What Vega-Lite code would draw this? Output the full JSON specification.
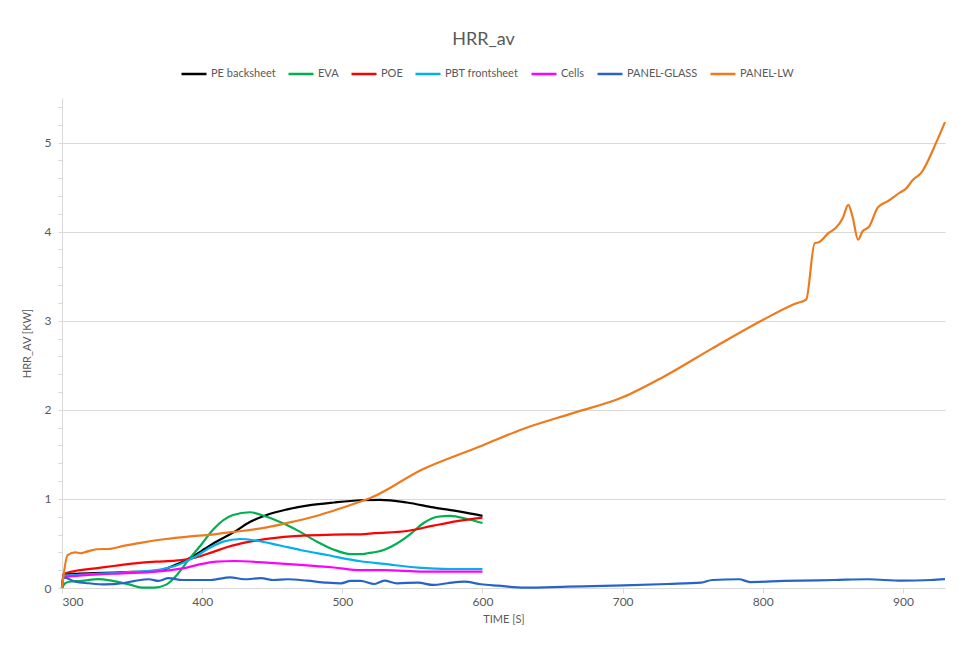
{
  "$schema": "https://vega.github.io/schema/vega-lite/v6.json",
  "width": 883,
  "height": 490,
  "autosize": "none",
  "padding": {"left": 62, "top": 98, "right": 23, "bottom": 58},
  "background": "white",
  "config": {"font": "Lato", "view": {"stroke": null}},
  "title": {
    "text": "HRR_av",
    "fontSize": 18,
    "fontWeight": "normal",
    "color": "#595959",
    "anchor": "middle",
    "dx": -20,
    "offset": 11
  },
  "data": {
    "values": [
      {"s": "PE backsheet", "t": 300, "v": 0},
      {"s": "PE backsheet", "t": 301.5, "v": 0.15},
      {"s": "PE backsheet", "t": 310, "v": 0.16},
      {"s": "PE backsheet", "t": 330, "v": 0.17},
      {"s": "PE backsheet", "t": 350, "v": 0.18},
      {"s": "PE backsheet", "t": 366, "v": 0.19},
      {"s": "PE backsheet", "t": 375, "v": 0.22},
      {"s": "PE backsheet", "t": 381, "v": 0.26},
      {"s": "PE backsheet", "t": 388, "v": 0.31},
      {"s": "PE backsheet", "t": 395, "v": 0.37},
      {"s": "PE backsheet", "t": 402, "v": 0.44},
      {"s": "PE backsheet", "t": 409, "v": 0.51},
      {"s": "PE backsheet", "t": 416, "v": 0.57},
      {"s": "PE backsheet", "t": 423, "v": 0.63},
      {"s": "PE backsheet", "t": 434, "v": 0.74},
      {"s": "PE backsheet", "t": 446, "v": 0.82},
      {"s": "PE backsheet", "t": 460, "v": 0.88},
      {"s": "PE backsheet", "t": 477, "v": 0.93},
      {"s": "PE backsheet", "t": 494, "v": 0.96},
      {"s": "PE backsheet", "t": 513, "v": 0.985},
      {"s": "PE backsheet", "t": 527, "v": 0.99},
      {"s": "PE backsheet", "t": 546, "v": 0.96},
      {"s": "PE backsheet", "t": 565, "v": 0.905},
      {"s": "PE backsheet", "t": 584, "v": 0.857},
      {"s": "PE backsheet", "t": 600, "v": 0.81},

      {"s": "EVA", "t": 300, "v": 0},
      {"s": "EVA", "t": 302, "v": 0.05},
      {"s": "EVA", "t": 305, "v": 0.07},
      {"s": "EVA", "t": 314, "v": 0.08},
      {"s": "EVA", "t": 326, "v": 0.1},
      {"s": "EVA", "t": 336, "v": 0.08},
      {"s": "EVA", "t": 348, "v": 0.04},
      {"s": "EVA", "t": 357, "v": 0.005},
      {"s": "EVA", "t": 366, "v": 0.005},
      {"s": "EVA", "t": 374, "v": 0.035},
      {"s": "EVA", "t": 381, "v": 0.13},
      {"s": "EVA", "t": 390, "v": 0.31},
      {"s": "EVA", "t": 400, "v": 0.5},
      {"s": "EVA", "t": 408, "v": 0.66},
      {"s": "EVA", "t": 422, "v": 0.82},
      {"s": "EVA", "t": 434, "v": 0.85},
      {"s": "EVA", "t": 446, "v": 0.8},
      {"s": "EVA", "t": 460, "v": 0.71},
      {"s": "EVA", "t": 470, "v": 0.63},
      {"s": "EVA", "t": 482, "v": 0.52},
      {"s": "EVA", "t": 494, "v": 0.43},
      {"s": "EVA", "t": 506, "v": 0.38},
      {"s": "EVA", "t": 513, "v": 0.38},
      {"s": "EVA", "t": 518, "v": 0.39},
      {"s": "EVA", "t": 530, "v": 0.43},
      {"s": "EVA", "t": 539, "v": 0.5},
      {"s": "EVA", "t": 549, "v": 0.61},
      {"s": "EVA", "t": 558, "v": 0.73},
      {"s": "EVA", "t": 568, "v": 0.8},
      {"s": "EVA", "t": 577, "v": 0.81},
      {"s": "EVA", "t": 589, "v": 0.775},
      {"s": "EVA", "t": 600, "v": 0.73},

      {"s": "POE", "t": 300, "v": 0},
      {"s": "POE", "t": 301, "v": 0.155},
      {"s": "POE", "t": 309, "v": 0.19},
      {"s": "POE", "t": 324, "v": 0.22},
      {"s": "POE", "t": 338, "v": 0.25},
      {"s": "POE", "t": 352, "v": 0.277},
      {"s": "POE", "t": 367, "v": 0.296},
      {"s": "POE", "t": 381, "v": 0.307},
      {"s": "POE", "t": 395, "v": 0.34},
      {"s": "POE", "t": 407, "v": 0.4},
      {"s": "POE", "t": 418, "v": 0.46},
      {"s": "POE", "t": 434, "v": 0.52},
      {"s": "POE", "t": 454, "v": 0.565},
      {"s": "POE", "t": 475, "v": 0.59},
      {"s": "POE", "t": 494, "v": 0.6},
      {"s": "POE", "t": 513, "v": 0.603},
      {"s": "POE", "t": 523, "v": 0.615},
      {"s": "POE", "t": 546, "v": 0.64},
      {"s": "POE", "t": 565, "v": 0.7},
      {"s": "POE", "t": 582, "v": 0.75},
      {"s": "POE", "t": 600, "v": 0.79},

      {"s": "PBT frontsheet", "t": 300, "v": 0},
      {"s": "PBT frontsheet", "t": 301, "v": 0.135},
      {"s": "PBT frontsheet", "t": 310, "v": 0.146},
      {"s": "PBT frontsheet", "t": 331, "v": 0.165},
      {"s": "PBT frontsheet", "t": 355, "v": 0.183},
      {"s": "PBT frontsheet", "t": 371, "v": 0.21},
      {"s": "PBT frontsheet", "t": 383, "v": 0.26},
      {"s": "PBT frontsheet", "t": 395, "v": 0.35},
      {"s": "PBT frontsheet", "t": 406, "v": 0.457},
      {"s": "PBT frontsheet", "t": 415, "v": 0.52},
      {"s": "PBT frontsheet", "t": 427, "v": 0.55},
      {"s": "PBT frontsheet", "t": 439, "v": 0.53},
      {"s": "PBT frontsheet", "t": 454, "v": 0.483},
      {"s": "PBT frontsheet", "t": 470, "v": 0.427},
      {"s": "PBT frontsheet", "t": 489, "v": 0.37},
      {"s": "PBT frontsheet", "t": 513, "v": 0.3},
      {"s": "PBT frontsheet", "t": 530, "v": 0.27},
      {"s": "PBT frontsheet", "t": 554, "v": 0.228},
      {"s": "PBT frontsheet", "t": 577, "v": 0.213},
      {"s": "PBT frontsheet", "t": 600, "v": 0.213},

      {"s": "Cells", "t": 300, "v": 0},
      {"s": "Cells", "t": 301, "v": 0.12},
      {"s": "Cells", "t": 319, "v": 0.146},
      {"s": "Cells", "t": 343, "v": 0.165},
      {"s": "Cells", "t": 367, "v": 0.183},
      {"s": "Cells", "t": 386, "v": 0.22},
      {"s": "Cells", "t": 400, "v": 0.27},
      {"s": "Cells", "t": 410, "v": 0.296},
      {"s": "Cells", "t": 423, "v": 0.303},
      {"s": "Cells", "t": 446, "v": 0.285},
      {"s": "Cells", "t": 470, "v": 0.26},
      {"s": "Cells", "t": 494, "v": 0.23},
      {"s": "Cells", "t": 513, "v": 0.2},
      {"s": "Cells", "t": 530, "v": 0.2},
      {"s": "Cells", "t": 558, "v": 0.183},
      {"s": "Cells", "t": 600, "v": 0.183},

      {"s": "PANEL-GLASS", "t": 300, "v": 0},
      {"s": "PANEL-GLASS", "t": 301, "v": 0.12},
      {"s": "PANEL-GLASS", "t": 309.5, "v": 0.07},
      {"s": "PANEL-GLASS", "t": 319, "v": 0.053},
      {"s": "PANEL-GLASS", "t": 331, "v": 0.04},
      {"s": "PANEL-GLASS", "t": 343, "v": 0.053},
      {"s": "PANEL-GLASS", "t": 352, "v": 0.08},
      {"s": "PANEL-GLASS", "t": 362, "v": 0.098},
      {"s": "PANEL-GLASS", "t": 369, "v": 0.08},
      {"s": "PANEL-GLASS", "t": 376, "v": 0.11},
      {"s": "PANEL-GLASS", "t": 386, "v": 0.09},
      {"s": "PANEL-GLASS", "t": 398, "v": 0.09},
      {"s": "PANEL-GLASS", "t": 406, "v": 0.09},
      {"s": "PANEL-GLASS", "t": 420, "v": 0.12},
      {"s": "PANEL-GLASS", "t": 430, "v": 0.098},
      {"s": "PANEL-GLASS", "t": 442, "v": 0.11},
      {"s": "PANEL-GLASS", "t": 451, "v": 0.09},
      {"s": "PANEL-GLASS", "t": 461, "v": 0.098},
      {"s": "PANEL-GLASS", "t": 475, "v": 0.082},
      {"s": "PANEL-GLASS", "t": 489, "v": 0.06},
      {"s": "PANEL-GLASS", "t": 499, "v": 0.053},
      {"s": "PANEL-GLASS", "t": 506, "v": 0.079},
      {"s": "PANEL-GLASS", "t": 513, "v": 0.079},
      {"s": "PANEL-GLASS", "t": 523, "v": 0.045},
      {"s": "PANEL-GLASS", "t": 530, "v": 0.082},
      {"s": "PANEL-GLASS", "t": 539, "v": 0.053},
      {"s": "PANEL-GLASS", "t": 554, "v": 0.06},
      {"s": "PANEL-GLASS", "t": 565, "v": 0.034},
      {"s": "PANEL-GLASS", "t": 575, "v": 0.053},
      {"s": "PANEL-GLASS", "t": 587, "v": 0.071},
      {"s": "PANEL-GLASS", "t": 599, "v": 0.042},
      {"s": "PANEL-GLASS", "t": 611, "v": 0.026},
      {"s": "PANEL-GLASS", "t": 630, "v": 0.004},
      {"s": "PANEL-GLASS", "t": 661, "v": 0.015},
      {"s": "PANEL-GLASS", "t": 701, "v": 0.03},
      {"s": "PANEL-GLASS", "t": 732, "v": 0.045},
      {"s": "PANEL-GLASS", "t": 756, "v": 0.06},
      {"s": "PANEL-GLASS", "t": 764, "v": 0.09},
      {"s": "PANEL-GLASS", "t": 783, "v": 0.098},
      {"s": "PANEL-GLASS", "t": 791, "v": 0.067},
      {"s": "PANEL-GLASS", "t": 815, "v": 0.079},
      {"s": "PANEL-GLASS", "t": 851, "v": 0.09},
      {"s": "PANEL-GLASS", "t": 875, "v": 0.098},
      {"s": "PANEL-GLASS", "t": 899, "v": 0.082},
      {"s": "PANEL-GLASS", "t": 920, "v": 0.09},
      {"s": "PANEL-GLASS", "t": 930, "v": 0.1},

      {"s": "PANEL-LW", "t": 300, "v": 0},
      {"s": "PANEL-LW", "t": 304, "v": 0.37},
      {"s": "PANEL-LW", "t": 309.5, "v": 0.4},
      {"s": "PANEL-LW", "t": 313, "v": 0.39},
      {"s": "PANEL-LW", "t": 317, "v": 0.405},
      {"s": "PANEL-LW", "t": 325, "v": 0.435},
      {"s": "PANEL-LW", "t": 334.5, "v": 0.44},
      {"s": "PANEL-LW", "t": 343, "v": 0.47},
      {"s": "PANEL-LW", "t": 357, "v": 0.51},
      {"s": "PANEL-LW", "t": 374, "v": 0.55},
      {"s": "PANEL-LW", "t": 390, "v": 0.577},
      {"s": "PANEL-LW", "t": 407, "v": 0.6},
      {"s": "PANEL-LW", "t": 423, "v": 0.63},
      {"s": "PANEL-LW", "t": 446, "v": 0.68},
      {"s": "PANEL-LW", "t": 465, "v": 0.745},
      {"s": "PANEL-LW", "t": 484, "v": 0.82},
      {"s": "PANEL-LW", "t": 499, "v": 0.895},
      {"s": "PANEL-LW", "t": 513, "v": 0.97},
      {"s": "PANEL-LW", "t": 520, "v": 1.01},
      {"s": "PANEL-LW", "t": 557, "v": 1.33},
      {"s": "PANEL-LW", "t": 600, "v": 1.6},
      {"s": "PANEL-LW", "t": 628, "v": 1.78},
      {"s": "PANEL-LW", "t": 664, "v": 1.96},
      {"s": "PANEL-LW", "t": 700, "v": 2.14},
      {"s": "PANEL-LW", "t": 728, "v": 2.36},
      {"s": "PANEL-LW", "t": 764, "v": 2.69},
      {"s": "PANEL-LW", "t": 799, "v": 3.0},
      {"s": "PANEL-LW", "t": 823, "v": 3.19},
      {"s": "PANEL-LW", "t": 831, "v": 3.24},
      {"s": "PANEL-LW", "t": 837, "v": 3.87},
      {"s": "PANEL-LW", "t": 840, "v": 3.88},
      {"s": "PANEL-LW", "t": 847, "v": 3.985},
      {"s": "PANEL-LW", "t": 852, "v": 4.04},
      {"s": "PANEL-LW", "t": 857, "v": 4.15},
      {"s": "PANEL-LW", "t": 861, "v": 4.3},
      {"s": "PANEL-LW", "t": 864, "v": 4.17},
      {"s": "PANEL-LW", "t": 868, "v": 3.91},
      {"s": "PANEL-LW", "t": 871, "v": 4.0},
      {"s": "PANEL-LW", "t": 876, "v": 4.06},
      {"s": "PANEL-LW", "t": 882, "v": 4.27},
      {"s": "PANEL-LW", "t": 889, "v": 4.34},
      {"s": "PANEL-LW", "t": 898, "v": 4.44},
      {"s": "PANEL-LW", "t": 902, "v": 4.48},
      {"s": "PANEL-LW", "t": 907, "v": 4.58},
      {"s": "PANEL-LW", "t": 913, "v": 4.66},
      {"s": "PANEL-LW", "t": 924, "v": 5.01},
      {"s": "PANEL-LW", "t": 930, "v": 5.23}
    ]
  },
  "mark": {"type": "line", "strokeWidth": 2.2, "interpolate": "monotone"},
  "encoding": {
    "x": {
      "field": "t",
      "type": "quantitative",
      "scale": {"domain": [300, 930], "nice": false, "zero": false},
      "axis": {
        "title": "TIME [S]",
        "values": [300, 400, 500, 600, 700, 800, 900],
        "grid": false,
        "domainColor": "#d9d9d9",
        "tickColor": "#d9d9d9",
        "tickSize": 5,
        "labelColor": "#595959",
        "labelFontSize": 12,
        "labelPadding": 3,
        "titleColor": "#595959",
        "titleFontSize": 11,
        "titleFontWeight": "normal",
        "titlePadding": 6
      }
    },
    "y": {
      "field": "v",
      "type": "quantitative",
      "scale": {"domain": [0, 5.5], "nice": false},
      "axis": {
        "title": "HRR_AV [KW]",
        "values": [0, 0.2, 0.4, 0.6, 0.8, 1, 1.2, 1.4, 1.6, 1.8, 2, 2.2, 2.4, 2.6, 2.8, 3, 3.2, 3.4, 3.6, 3.8, 4, 4.2, 4.4, 4.6, 4.8, 5, 5.2, 5.4],
        "labelExpr": "datum.value % 1 === 0 ? format(datum.value, 'd') : ''",
        "grid": true,
        "gridColor": "#d9d9d9",
        "gridOpacity": {"condition": {"test": "datum.value % 1 === 0 && datum.value > 0", "value": 1}, "value": 0},
        "domainColor": "#d9d9d9",
        "tickColor": "#d9d9d9",
        "tickSize": 4,
        "labelColor": "#595959",
        "labelFontSize": 12,
        "labelPadding": 7,
        "titleColor": "#595959",
        "titleFontSize": 11,
        "titleFontWeight": "normal",
        "titlePadding": 12
      }
    },
    "color": {
      "field": "s",
      "type": "nominal",
      "scale": {
        "domain": ["PE backsheet", "EVA", "POE", "PBT frontsheet", "Cells", "PANEL-GLASS", "PANEL-LW"],
        "range": ["#000000", "#00b050", "#ff0000", "#00b0f0", "#ff00ff", "#2764c8", "#ee7a1e"]
      },
      "legend": {
        "title": null,
        "orient": "none",
        "legendX": 118,
        "legendY": -38,
        "direction": "horizontal",
        "symbolType": "stroke",
        "symbolSize": 625,
        "symbolStrokeWidth": 2.5,
        "labelFontSize": 11,
        "labelColor": "#595959",
        "labelOffset": 3,
        "columnPadding": 7
      }
    }
  }
}
